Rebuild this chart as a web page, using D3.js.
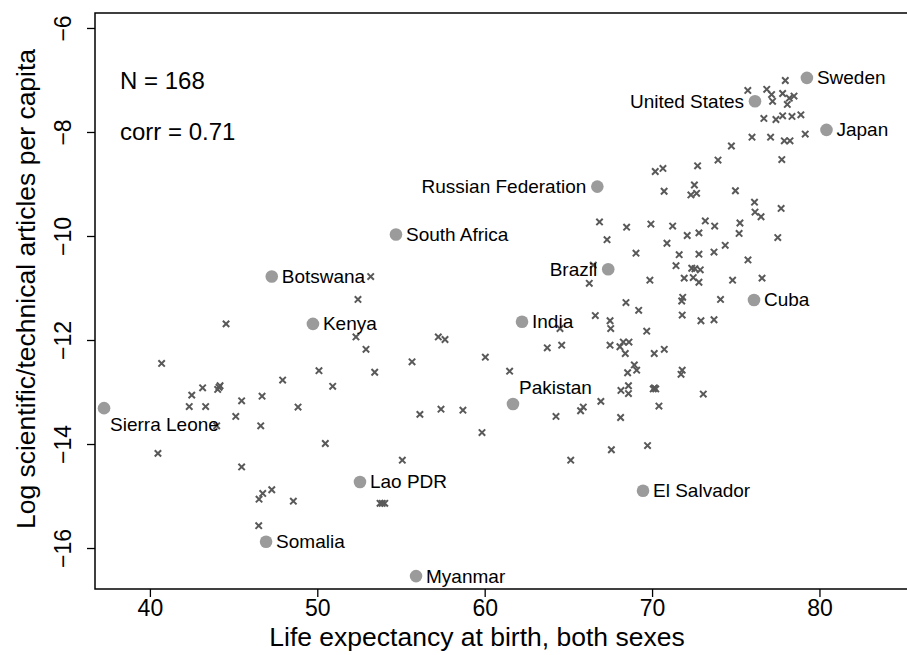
<!DOCTYPE html>
<html>
<head>
<meta charset="utf-8">
<script src="https://cdn.jsdelivr.net/npm/d3@7"></script>
<style>
  body { margin: 0; background: #fff; }
  svg { display: block; }
  text { font-family: "Liberation Sans", Arial, Helvetica, sans-serif; fill: #000; }
</style>
</head>
<body>
<svg id="chart" width="907" height="655"></svg>
<script>
// Highlighted countries: life expectancy (years) and log articles per capita
const labelledCountries = ["Sweden", "United States", "Japan", "Russian Federation", "South Africa",
  "Brazil", "Botswana", "Cuba", "Kenya", "India", "Pakistan", "Sierra Leone",
  "El Salvador", "Lao PDR", "Somalia", "Myanmar"];
const labelledLife = [79.25, 76.15, 80.42, 66.73, 54.70, 67.38, 47.28, 76.09, 49.74, 62.23,
  61.69, 37.26, 69.46, 52.55, 46.94, 55.90];
const labelledArticles = [-6.96, -7.41, -7.96, -9.05, -9.97, -10.64, -10.78, -11.23, -11.69, -11.65,
  -13.23, -13.31, -14.90, -14.73, -15.88, -16.54];

// All remaining countries
const otherLife = [
  44.55, 40.70, 47.93, 43.15, 44.19, 44.05, 42.50, 46.70, 45.48, 42.35,
  43.33, 45.13, 43.99, 46.62, 40.48, 45.48, 47.28, 46.74, 46.52, 46.50,
  52.43, 52.31, 57.23, 57.63, 52.91, 60.04, 55.66, 50.10, 53.43, 50.92,
  48.85, 56.13, 57.39, 58.70, 59.84, 50.48, 55.08, 48.57, 53.75, 54.03,
  53.88, 68.44, 71.83, 71.77, 66.61, 69.20, 71.80, 67.49, 67.53, 64.50,
  69.68, 63.74, 64.60, 67.49, 68.08, 68.28, 68.62, 68.40, 70.13, 70.73,
  61.49, 68.94, 69.08, 68.54, 71.80, 71.73, 68.59, 68.14, 68.59, 70.07,
  70.22, 70.14, 73.06, 66.94, 65.89, 65.73, 70.41, 64.26, 68.12, 67.57,
  69.73, 65.14, 70.19, 70.65, 72.72, 73.94, 77.75, 72.53, 70.72, 72.32,
  72.66, 74.98, 76.12, 77.71, 76.15, 76.51, 66.86, 68.48, 69.93, 71.23,
  73.18, 73.74, 75.25, 72.10, 72.80, 75.20, 77.51, 67.31, 70.89, 69.04,
  71.62, 72.80, 73.70, 74.37, 71.43, 75.73, 72.37, 72.56, 72.88, 69.87,
  71.92, 72.46, 72.80, 74.81, 76.57, 74.09, 72.92, 73.70, 77.96, 75.72,
  76.85, 77.14, 77.20, 77.80, 78.20, 78.48, 78.08, 76.68, 77.40, 77.80,
  78.36, 78.89, 75.97, 77.08, 77.90, 78.24, 79.15, 74.74, 53.19, 66.49,
  66.25, 44.13];
const otherArticles = [
  -11.69, -12.45, -12.77, -12.92, -12.88, -12.95, -13.06, -13.08, -13.17, -13.28,
  -13.28, -13.47, -13.65, -13.65, -14.18, -14.44, -14.88, -14.95, -15.06, -15.57,
  -11.22, -11.94, -11.94, -11.99, -12.18, -12.33, -12.42, -12.59, -12.62, -12.89,
  -13.29, -13.43, -13.33, -13.35, -13.78, -13.99, -14.31, -15.10, -15.14, -15.14,
  -15.14, -11.28, -11.18, -11.25, -11.53, -11.43, -11.52, -11.63, -11.78, -11.78,
  -11.83, -12.15, -12.10, -12.10, -12.13, -12.04, -12.04, -12.26, -12.26, -12.18,
  -12.60, -12.48, -12.58, -12.63, -12.58, -12.66, -12.88, -12.97, -13.03, -12.94,
  -12.94, -12.92, -13.04, -13.18, -13.29, -13.36, -13.27, -13.47, -13.49, -14.11,
  -14.03, -14.31, -8.76, -8.70, -8.65, -8.54, -8.53, -9.02, -9.14, -9.21,
  -9.18, -9.13, -9.35, -9.47, -9.54, -9.63, -9.73, -9.83, -9.77, -9.81,
  -9.71, -9.81, -9.75, -9.99, -9.94, -9.95, -10.03, -10.07, -10.14, -10.33,
  -10.36, -10.35, -10.31, -10.18, -10.57, -10.46, -10.62, -10.63, -10.65, -10.85,
  -10.81, -10.80, -10.89, -10.85, -10.81, -11.22, -11.63, -11.61, -7.01, -7.20,
  -7.18, -7.28, -7.41, -7.26, -7.35, -7.31, -7.47, -7.74, -7.76, -7.69,
  -7.70, -7.67, -8.10, -8.10, -8.17, -8.17, -8.04, -8.27, -10.78, -10.56,
  -10.91, -12.91];

const xTickValues = [40, 50, 60, 70, 80];
const yTickValues = [-16, -14, -12, -10, -8, -6];
const countryCount = 168;
const correlation = 0.71;

// Which side of its dot each country name sits on
const labelSide = {
  "Sweden": "right", "United States": "left", "Japan": "right",
  "Russian Federation": "left", "South Africa": "right", "Brazil": "left",
  "Botswana": "right", "Cuba": "right", "Kenya": "right", "India": "right",
  "Pakistan": "above", "Sierra Leone": "below", "El Salvador": "right",
  "Lao PDR": "right", "Somalia": "right", "Myanmar": "right"
};

const W = 907, H = 655;
const plot = { left: 95, top: 13, right: 907, bottom: 589 };

const svg = d3.select("#chart");
svg.append("rect").attr("width", W).attr("height", H).attr("fill", "#fff");

const x = d3.scaleLinear().domain([36.72, 85.23]).range([plot.left, plot.right]);
const y = d3.scaleLinear().domain([-16.788, -5.712]).range([plot.bottom, plot.top]);

const fmt = d => (d < 0 ? "\u2212" + Math.abs(d) : String(d));

// Plain countries as small crosses
const others = otherLife.map((v, i) => ({ life: v, art: otherArticles[i] }));
svg.append("g")
  .selectAll("path")
  .data(others)
  .join("path")
  .attr("transform", d => `translate(${x(d.life)},${y(d.art)})`)
  .attr("d", "M-3.2,-3.2L3.2,3.2M-3.2,3.2L3.2,-3.2")
  .attr("stroke", "#595959")
  .attr("stroke-width", 2)
  .attr("fill", "none");

// Highlighted countries as grey dots with names
const named = labelledCountries.map((c, i) => ({ name: c, life: labelledLife[i], art: labelledArticles[i] }));
svg.append("g")
  .selectAll("circle")
  .data(named)
  .join("circle")
  .attr("cx", d => x(d.life))
  .attr("cy", d => y(d.art))
  .attr("r", 6.3)
  .attr("fill", "#9b9b9b");

svg.append("g")
  .selectAll("text")
  .data(named)
  .join("text")
  .attr("font-size", 19)
  .attr("dominant-baseline", "central")
  .attr("x", d => {
    const s = labelSide[d.name];
    if (s === "left") return x(d.life) - 11;
    if (s === "right") return x(d.life) + 10;
    return x(d.life) + 6;
  })
  .attr("y", d => {
    const s = labelSide[d.name];
    if (s === "above") return y(d.art) - 16;
    if (s === "below") return y(d.art) + 16;
    return y(d.art);
  })
  .attr("text-anchor", d => labelSide[d.name] === "left" ? "end" : "start")
  .text(d => d.name);

// Summary statistics
svg.append("text").attr("x", 120).attr("y", 80).attr("font-size", 24)
  .attr("dominant-baseline", "central").text(`N = ${countryCount}`);
svg.append("text").attr("x", 120).attr("y", 131).attr("font-size", 24)
  .attr("dominant-baseline", "central").text(`corr = ${correlation}`);

// Frame
svg.append("rect")
  .attr("x", plot.left).attr("y", plot.top)
  .attr("width", plot.right - plot.left + 10).attr("height", plot.bottom - plot.top)
  .attr("fill", "none").attr("stroke", "#000").attr("stroke-width", 1.5);

// Bottom axis
const gx = svg.append("g").attr("transform", `translate(0,${plot.bottom})`)
  .call(d3.axisBottom(x).tickValues(xTickValues).tickSize(8).tickPadding(3).tickFormat(fmt));
gx.select(".domain").remove();
gx.selectAll("line").attr("stroke", "#000").attr("stroke-width", 1.3);
gx.selectAll("text").attr("font-size", 23).attr("font-family", "Liberation Sans, Arial, sans-serif");

// Left axis with labels running along the axis
const gy = svg.append("g").attr("transform", `translate(${plot.left},0)`)
  .call(d3.axisLeft(y).tickValues(yTickValues).tickSize(8).tickFormat(fmt));
gy.select(".domain").remove();
gy.selectAll("line").attr("stroke", "#000").attr("stroke-width", 1.3);
gy.selectAll("text")
  .attr("font-size", 23)
  .attr("font-family", "Liberation Sans, Arial, sans-serif")
  .attr("transform", "rotate(-90)")
  .attr("x", 0).attr("y", -24).attr("dy", null)
  .attr("text-anchor", "middle");

// Axis titles
svg.append("text")
  .attr("x", 477).attr("y", 646)
  .attr("text-anchor", "middle").attr("font-size", 26.5)
  .text("Life expectancy at birth, both sexes");
svg.append("text")
  .attr("transform", "translate(35,289) rotate(-90)")
  .attr("text-anchor", "middle").attr("font-size", 26.5)
  .text("Log scientific/technical articles per capita");
</script>
</body>
</html>
